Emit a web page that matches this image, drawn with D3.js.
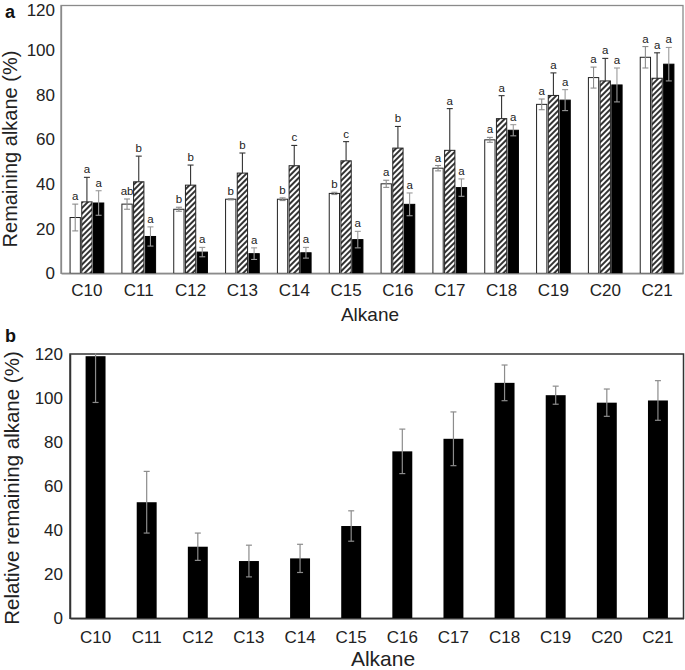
<!DOCTYPE html>
<html>
<head>
<meta charset="utf-8">
<script src="https://cdn.jsdelivr.net/npm/d3@7"></script>
<style>
  html, body { margin: 0; padding: 0; background: #fff; }
  svg { display: block; font-family: Arial, "Liberation Sans", sans-serif; }
</style>
</head>
<body>
<svg id="chart" width="685" height="670"></svg>
<script>
// ---------- Data ----------
const categories = ["C10","C11","C12","C13","C14","C15","C16","C17","C18","C19","C20","C21"];
const seriesNames = ["white","hatched","black"];

// Panel a: remaining alkane (%)
const whiteValues   = [25, 31, 28.7, 33.2, 33.2, 35.8, 40.1, 47.1, 59.8, 75.7, 87.7, 96.8];
const whiteErrors   = [6, 2.3, 0.9, 0.3, 0.6, 0.5, 1.6, 1.2, 1.1, 2.4, 4.7, 4.8];
const hatchedValues = [32, 41, 39.5, 44.9, 48.2, 50.4, 56.1, 55.1, 69.3, 79.7, 86.2, 87.4];
const hatchedErrors = [11, 11.5, 9, 9, 9.1, 8.6, 9.7, 18.7, 10.3, 10.1, 10.1, 11.4];
const blackValues   = [31.5, 16.5, 9.5, 8.8, 9.2, 15.1, 30.9, 38.4, 64.1, 77.6, 84.4, 93.7];
const blackErrors   = [5.5, 4.3, 2.1, 2.6, 2.4, 3.7, 5.1, 3.9, 2.5, 4.7, 7.6, 7.5];
const letterLabels  = [
  ["a","a","a"],["ab","b","a"],["b","b","a"],["b","b","a"],["b","c","a"],["b","c","a"],
  ["a","b","a"],["a","a","a"],["a","a","a"],["a","a","a"],["a","a","a"],["a","a","a"]
];
const yTicksA = [0, 20, 40, 60, 80, 100, 120];

// Panel b: relative remaining alkane (%)
const relValues = [119, 52.7, 32.5, 26, 27.2, 41.9, 75.8, 81.5, 106.9, 101.3, 97.9, 98.9];
const relErrors = [21, 14, 6.2, 7.2, 6.4, 6.9, 10.1, 12.2, 8.1, 4.1, 6.2, 9];
const yTicksB = [0, 20, 40, 60, 80, 100, 120];

// ---------- Layout ----------
const svg = d3.select("#chart");
const defs = svg.append("defs");
const pat = defs.append("pattern")
  .attr("id", "hatch").attr("patternUnits", "userSpaceOnUse")
  .attr("width", 4).attr("height", 4)
  .attr("patternTransform", "rotate(45)");
pat.append("rect").attr("width", 4).attr("height", 4).attr("fill", "#fff");
pat.append("rect").attr("x", 0).attr("width", 2).attr("height", 4).attr("fill", "#333");

// ===== Panel a =====
const A = { left: 61, right: 683, top: 5.5, bottom: 273.3 };
const xA = d3.scaleBand().domain(categories).range([A.left, A.right])
  .paddingInner(0.35).paddingOuter(0.175);
const xSub = d3.scaleBand().domain(seriesNames).range([0, xA.bandwidth()]).paddingInner(0.12);
const yA = d3.scaleLinear().domain([0, 120]).range([A.bottom, A.top]);

const gA = svg.append("g");
gA.append("rect").attr("x", A.left).attr("y", A.top)
  .attr("width", A.right - A.left).attr("height", A.bottom - A.top)
  .attr("fill", "none").attr("stroke", "#8a8a8a").attr("stroke-width", 1.3);

const seriesA = [
  { key: "white", vals: whiteValues, errs: whiteErrors, fill: "#fff", stroke: "#222", err: "#8c8c8c", both: true },
  { key: "hatched", vals: hatchedValues, errs: hatchedErrors, fill: "url(#hatch)", stroke: "#222", err: "#333", both: false },
  { key: "black", vals: blackValues, errs: blackErrors, fill: "#000", stroke: "#000", err: "#9a9a9a", both: true }
];

seriesA.forEach((s, si) => {
  const g = gA.append("g");
  g.selectAll("rect").data(categories).join("rect")
    .attr("x", c => xA(c) + xSub(s.key))
    .attr("y", (c, i) => yA(s.vals[i]))
    .attr("width", xSub.bandwidth())
    .attr("height", (c, i) => yA(0) - yA(s.vals[i]))
    .attr("fill", s.fill).attr("stroke", s.stroke).attr("stroke-width", 1);
  const cx = c => xA(c) + xSub(s.key) + xSub.bandwidth() / 2;
  const eg = g.append("g").attr("stroke", s.err).attr("stroke-width", 1.1);
  categories.forEach((c, i) => {
    const x = cx(c);
    const top = s.vals[i] + s.errs[i];
    const bot = s.both ? s.vals[i] - s.errs[i] : s.vals[i];
    eg.append("line").attr("x1", x).attr("x2", x).attr("y1", yA(top)).attr("y2", yA(bot));
    eg.append("line").attr("x1", x - 3).attr("x2", x + 3).attr("y1", yA(top)).attr("y2", yA(top));
    if (s.both) eg.append("line").attr("x1", x - 3).attr("x2", x + 3).attr("y1", yA(bot)).attr("y2", yA(bot));
  });
  g.selectAll("text").data(categories).join("text")
    .attr("x", c => cx(c))
    .attr("y", (c, i) => yA(s.vals[i] + s.errs[i]) - 4)
    .attr("text-anchor", "middle").attr("font-size", 11.5).attr("fill", "#222")
    .text((c, i) => letterLabels[i][si]);
});

const axA = gA.append("g").attr("transform", `translate(${A.left},0)`)
  .call(d3.axisLeft(yA).tickValues(yTicksA).tickSize(0).tickPadding(6));
axA.select(".domain").attr("stroke", "#8a8a8a").attr("stroke-width", 1.3);
axA.selectAll("text").attr("font-size", 17).attr("fill", "#222").attr("font-family", "Arial, Liberation Sans, sans-serif");
axA.selectAll(".tick").filter(d => d === 120).select("text").attr("dy", "0.6em");
const axAx = gA.append("g").attr("transform", `translate(0,${A.bottom})`)
  .call(d3.axisBottom(xA).tickSize(0).tickPadding(11));
axAx.select(".domain").attr("stroke", "#8a8a8a").attr("stroke-width", 1.3);
axAx.selectAll("text").attr("font-size", 17).attr("fill", "#222").attr("font-family", "Arial, Liberation Sans, sans-serif");

gA.append("text").attr("x", (A.left + A.right) / 2 - 2).attr("y", 321)
  .attr("text-anchor", "middle").attr("font-size", 19).attr("fill", "#222").text("Alkane");
gA.append("text").attr("transform", `translate(17,${149}) rotate(-90)`)
  .attr("text-anchor", "middle").attr("font-size", 20).attr("fill", "#222").text("Remaining alkane (%)");
gA.append("text").attr("x", 5).attr("y", 18).attr("font-size", 18).attr("font-weight", "bold").attr("fill", "#111").text("a");

// ===== Panel b =====
const B = { left: 70, right: 683.5, top: 354, bottom: 618.3 };
const xB = d3.scaleBand().domain(categories).range([B.left, B.right])
  .paddingInner(0.61).paddingOuter(0.305);
const yB = d3.scaleLinear().domain([0, 120]).range([B.bottom, B.top]);

const gB = svg.append("g");
gB.append("rect").attr("x", B.left).attr("y", B.top)
  .attr("width", B.right - B.left).attr("height", B.bottom - B.top)
  .attr("fill", "none").attr("stroke", "#333").attr("stroke-width", 1.5);

gB.append("g").selectAll("rect").data(categories).join("rect")
  .attr("x", c => xB(c))
  .attr("y", (c, i) => yB(Math.min(relValues[i], 120)))
  .attr("width", xB.bandwidth())
  .attr("height", (c, i) => yB(0) - yB(Math.min(relValues[i], 120)))
  .attr("fill", "#000");

const ebB = gB.append("g").attr("stroke", "#8c8c8c").attr("stroke-width", 1.2);
categories.forEach((c, i) => {
  const x = xB(c) + xB.bandwidth() / 2;
  const topV = Math.min(relValues[i] + relErrors[i], 120.3);
  const botV = relValues[i] - relErrors[i];
  ebB.append("line").attr("x1", x).attr("x2", x).attr("y1", yB(topV)).attr("y2", yB(botV));
  if (relValues[i] + relErrors[i] <= 120.3)
    ebB.append("line").attr("x1", x - 3).attr("x2", x + 3).attr("y1", yB(topV)).attr("y2", yB(topV));
  ebB.append("line").attr("x1", x - 3).attr("x2", x + 3).attr("y1", yB(botV)).attr("y2", yB(botV));
});

const axB = gB.append("g").attr("transform", `translate(${B.left},0)`)
  .call(d3.axisLeft(yB).tickValues(yTicksB).tickSize(0).tickPadding(7));
axB.select(".domain").attr("stroke", "#333").attr("stroke-width", 1.5);
axB.selectAll("text").attr("font-size", 17).attr("fill", "#222").attr("font-family", "Arial, Liberation Sans, sans-serif");
const axBx = gB.append("g").attr("transform", `translate(0,${B.bottom})`)
  .call(d3.axisBottom(xB).tickSize(0).tickPadding(13));
axBx.select(".domain").attr("stroke", "#333").attr("stroke-width", 1.5);
axBx.selectAll("text").attr("font-size", 17).attr("fill", "#222").attr("font-family", "Arial, Liberation Sans, sans-serif");

gB.append("text").attr("x", 383).attr("y", 666)
  .attr("text-anchor", "middle").attr("font-size", 21).attr("fill", "#222").text("Alkane");
gB.append("text").attr("transform", `translate(19,${488}) rotate(-90)`)
  .attr("text-anchor", "middle").attr("font-size", 20.5).attr("fill", "#222").text("Relative remaining alkane (%)");
gB.append("text").attr("x", 5).attr("y", 342).attr("font-size", 18).attr("font-weight", "bold").attr("fill", "#111").text("b");
</script>
</body>
</html>
